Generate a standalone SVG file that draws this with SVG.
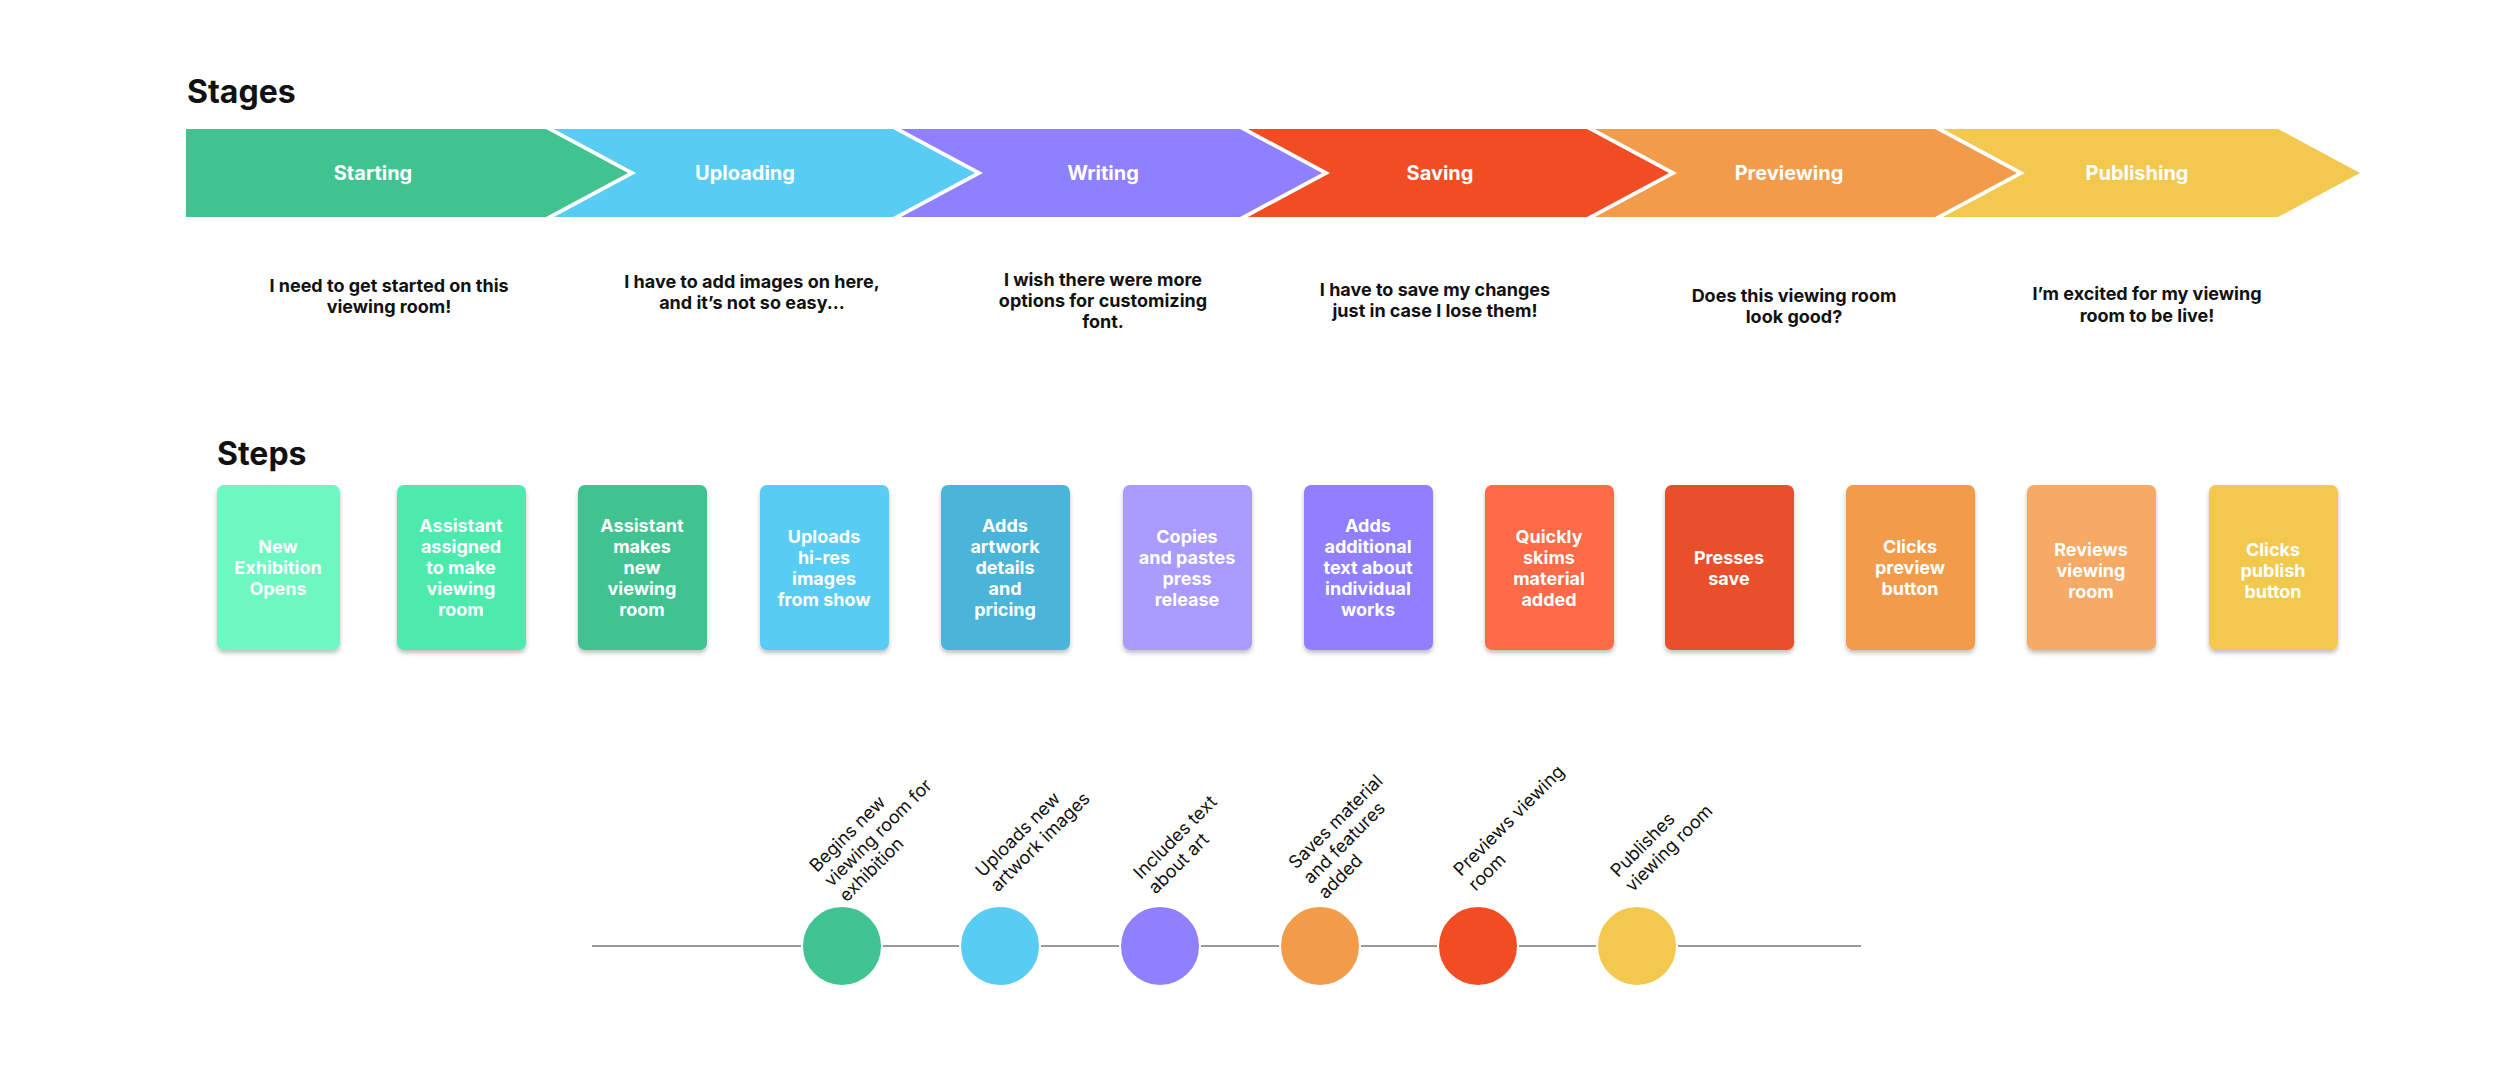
<svg xmlns="http://www.w3.org/2000/svg" width="2500" height="1084" viewBox="0 0 2500 1084">
<style>
.h{font-family:Inter,"Liberation Sans",sans-serif;font-weight:700;font-size:32px;fill:#111}
.sl{font-family:Inter,"Liberation Sans",sans-serif;font-weight:700;font-size:20px;fill:#fff;text-anchor:middle}
.q{font-family:Inter,"Liberation Sans",sans-serif;font-weight:700;font-size:18px;fill:#111;text-anchor:middle}
.ct{font-family:Inter,"Liberation Sans",sans-serif;font-weight:700;font-size:18px;fill:#fff;text-anchor:middle}
.tl{font-family:Inter,"Liberation Sans",sans-serif;font-size:18px;fill:#111}
.card{filter:url(#sh)}
</style>
<defs>
<filter id="sh" x="-10%" y="-10%" width="120%" height="120%"><feDropShadow dx="0" dy="3" stdDeviation="2" flood-color="#000" flood-opacity="0.25"/></filter>
</defs>
<text class="h" x="187" y="103">Stages</text>
<text class="h" x="217" y="465">Steps</text>

<g id="stage-starting"><polygon points="186,129 546,129 628,173 546,217 186,217" fill="#40C391"/><text class="sl" x="373" y="180">Starting</text><text class="q" x="389" y="292">I need to get started on this</text><text class="q" x="389" y="313">viewing room!</text></g>
<g id="stage-uploading"><polygon points="554,129 893,129 975,173 893,217 554,217 636,173" fill="#58CCF2"/><text class="sl" x="745" y="180">Uploading</text><text class="q" x="752" y="288">I have to add images on here,</text><text class="q" x="752" y="309">and it’s not so easy...</text></g>
<g id="stage-writing"><polygon points="901,129 1240,129 1322,173 1240,217 901,217 983,173" fill="#8F80FF"/><text class="sl" x="1103" y="180">Writing</text><text class="q" x="1103" y="286">I wish there were more</text><text class="q" x="1103" y="307">options for customizing</text><text class="q" x="1103" y="328">font.</text></g>
<g id="stage-saving"><polygon points="1248,129 1587,129 1669,173 1587,217 1248,217 1330,173" fill="#F24C24"/><text class="sl" x="1440" y="180">Saving</text><text class="q" x="1435" y="296">I have to save my changes</text><text class="q" x="1435" y="317">just in case I lose them!</text></g>
<g id="stage-previewing"><polygon points="1595,129 1935,129 2017,173 1935,217 1595,217 1677,173" fill="#F29B4B"/><text class="sl" x="1789" y="180">Previewing</text><text class="q" x="1794" y="302">Does this viewing room</text><text class="q" x="1794" y="323">look good?</text></g>
<g id="stage-publishing"><polygon points="1943,129 2278,129 2360,173 2278,217 1943,217 2025,173" fill="#F2C84F"/><text class="sl" x="2137" y="180">Publishing</text><text class="q" x="2147" y="300">I’m excited for my viewing</text><text class="q" x="2147" y="322">room to be live!</text></g>

<g id="step1"><rect class="card" x="217" y="485" width="123" height="165" rx="7" fill="#6DF7C1"/><text class="ct" x="278" y="553">New</text><text class="ct" x="278" y="574">Exhibition</text><text class="ct" x="278" y="595">Opens</text></g>
<g id="step2"><rect class="card" x="397" y="485" width="129" height="165" rx="7" fill="#4EEAAE"/><text class="ct" x="461" y="532">Assistant</text><text class="ct" x="461" y="553">assigned</text><text class="ct" x="461" y="574">to make</text><text class="ct" x="461" y="595">viewing</text><text class="ct" x="461" y="616">room</text></g>
<g id="step3"><rect class="card" x="578" y="485" width="129" height="165" rx="7" fill="#40C391"/><text class="ct" x="642" y="532">Assistant</text><text class="ct" x="642" y="553">makes</text><text class="ct" x="642" y="574">new</text><text class="ct" x="642" y="595">viewing</text><text class="ct" x="642" y="616">room</text></g>
<g id="step4"><rect class="card" x="760" y="485" width="129" height="165" rx="7" fill="#58CCF2"/><text class="ct" x="824" y="543">Uploads</text><text class="ct" x="824" y="564">hi-res</text><text class="ct" x="824" y="585">images</text><text class="ct" x="824" y="606">from show</text></g>
<g id="step5"><rect class="card" x="941" y="485" width="129" height="165" rx="7" fill="#4BB5D9"/><text class="ct" x="1005" y="532">Adds</text><text class="ct" x="1005" y="553">artwork</text><text class="ct" x="1005" y="574">details</text><text class="ct" x="1005" y="595">and</text><text class="ct" x="1005" y="616">pricing</text></g>
<g id="step6"><rect class="card" x="1123" y="485" width="129" height="165" rx="7" fill="#A99BFF"/><text class="ct" x="1187" y="543">Copies</text><text class="ct" x="1187" y="564">and pastes</text><text class="ct" x="1187" y="585">press</text><text class="ct" x="1187" y="606">release</text></g>
<g id="step7"><rect class="card" x="1304" y="485" width="129" height="165" rx="7" fill="#9080FF"/><text class="ct" x="1368" y="532">Adds</text><text class="ct" x="1368" y="553">additional</text><text class="ct" x="1368" y="574">text about</text><text class="ct" x="1368" y="595">individual</text><text class="ct" x="1368" y="616">works</text></g>
<g id="step8"><rect class="card" x="1485" y="485" width="129" height="165" rx="7" fill="#FF6B4A"/><text class="ct" x="1549" y="543">Quickly</text><text class="ct" x="1549" y="564">skims</text><text class="ct" x="1549" y="585">material</text><text class="ct" x="1549" y="606">added</text></g>
<g id="step9"><rect class="card" x="1665" y="485" width="129" height="165" rx="7" fill="#E84F2A"/><text class="ct" x="1729" y="564">Presses</text><text class="ct" x="1729" y="585">save</text></g>
<g id="step10"><rect class="card" x="1846" y="485" width="129" height="165" rx="7" fill="#F29B4B"/><text class="ct" x="1910" y="553">Clicks</text><text class="ct" x="1910" y="574">preview</text><text class="ct" x="1910" y="595">button</text></g>
<g id="step11"><rect class="card" x="2027" y="485" width="129" height="165" rx="7" fill="#F7A966"/><text class="ct" x="2091" y="556">Reviews</text><text class="ct" x="2091" y="577">viewing</text><text class="ct" x="2091" y="598">room</text></g>
<g id="step12"><rect class="card" x="2209" y="485" width="129" height="165" rx="7" fill="#F2C84F"/><text class="ct" x="2273" y="556">Clicks</text><text class="ct" x="2273" y="577">publish</text><text class="ct" x="2273" y="598">button</text></g>

<g id="connectors"><line x1="592" y1="946" x2="1861" y2="946" stroke="#999" stroke-width="2"/></g>

<g id="m1"><circle cx="842" cy="946" r="40" fill="#40C391" stroke="#fff" stroke-width="2"/><text class="tl" transform="translate(817,873) rotate(-45)"><tspan x="0" y="0">Begins new</tspan><tspan x="0" dy="21">viewing room for</tspan><tspan x="0" dy="21">exhibition</tspan></text></g>
<g id="m2"><circle cx="1000" cy="946" r="40" fill="#58CCF2" stroke="#fff" stroke-width="2"/><text class="tl" transform="translate(983,878) rotate(-45)"><tspan x="0" y="0">Uploads new</tspan><tspan x="0" dy="21">artwork images</tspan></text></g>
<g id="m3"><circle cx="1160" cy="946" r="40" fill="#8F80FF" stroke="#fff" stroke-width="2"/><text class="tl" transform="translate(1141,880) rotate(-45)"><tspan x="0" y="0">Includes text</tspan><tspan x="0" dy="21">about art</tspan></text></g>
<g id="m4"><circle cx="1320" cy="946" r="40" fill="#F29B4B" stroke="#fff" stroke-width="2"/><text class="tl" transform="translate(1296,870) rotate(-45)"><tspan x="0" y="0">Saves material</tspan><tspan x="0" dy="21">and features</tspan><tspan x="0" dy="21">added</tspan></text></g>
<g id="m5"><circle cx="1478" cy="946" r="40" fill="#F24C24" stroke="#fff" stroke-width="2"/><text class="tl" transform="translate(1461,877) rotate(-45)"><tspan x="0" y="0">Previews viewing</tspan><tspan x="0" dy="21">room</tspan></text></g>
<g id="m6"><circle cx="1637" cy="946" r="40" fill="#F2C84F" stroke="#fff" stroke-width="2"/><text class="tl" transform="translate(1618,878) rotate(-45)"><tspan x="0" y="0">Publishes</tspan><tspan x="0" dy="21">viewing room</tspan></text></g>
</svg>
